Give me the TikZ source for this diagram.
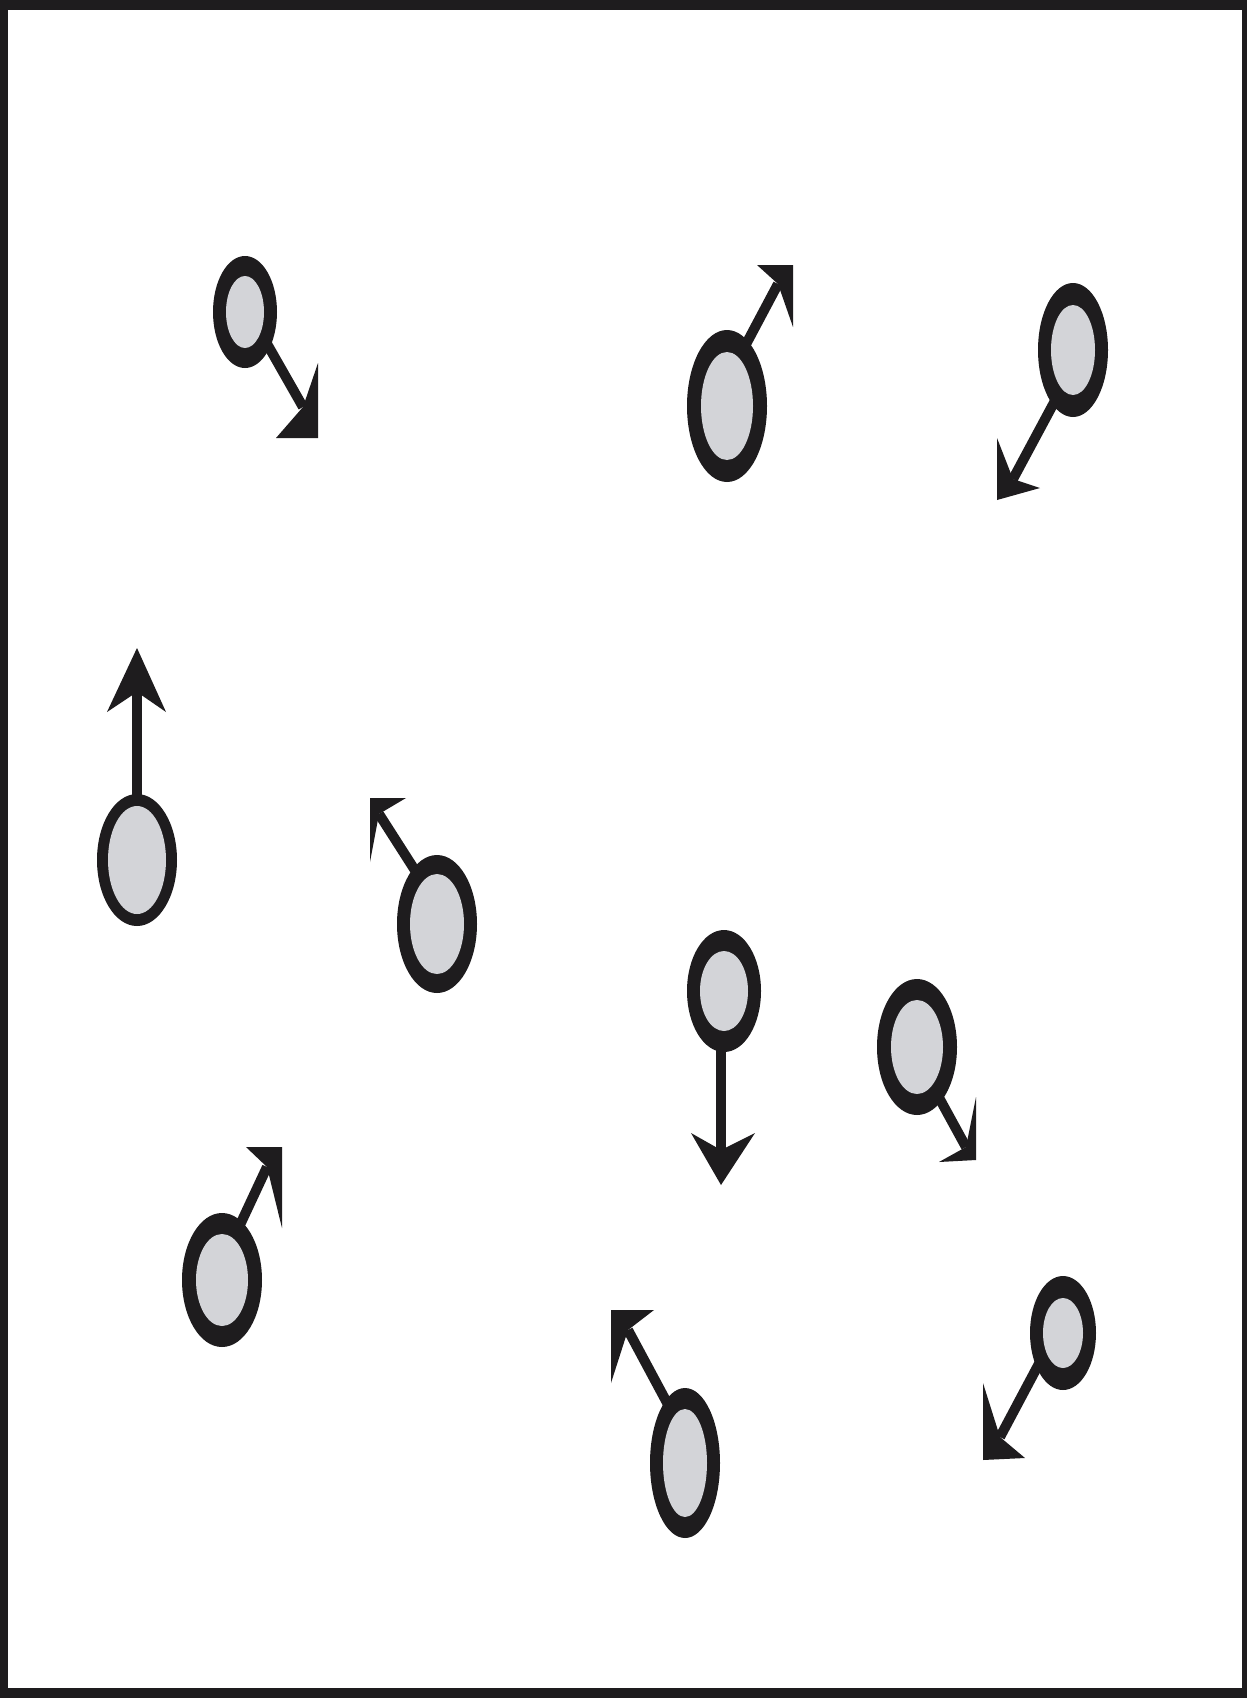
\documentclass[tikz,border=0pt]{standalone}
\definecolor{ink}{RGB}{30,28,30}
\definecolor{core}{RGB}{211,212,216}
\tikzset{
  shaft/.style={draw=ink, line width=5pt},
  head/.style={fill=ink},
  ring/.style={fill=ink},
  corefill/.style={fill=core}
}
% #1 name, #2 center, #3 outer rx, #4 outer ry, #5 inner rx, #6 inner ry
\newcommand\mybody[6]{%
  \coordinate (#1c) at #2;
  \fill[ring] (#1c) ellipse [x radius=#3, y radius=#4];
  \fill[corefill] (#1c) ellipse [x radius=#5, y radius=#6];
}
% #1 name, #2 shaft start, #3 notch, #4 tip, #5 barb a, #6 barb b
\newcommand\myarrow[6]{%
  \coordinate (#1s) at #2;
  \coordinate (#1n) at #3;
  \coordinate (#1t) at #4;
  \draw[shaft] (#1s) -- (#1n);
  \fill[head] (#1t) -- #5 -- (#1n) -- #6 -- cycle;
}
\begin{document}
\begin{tikzpicture}[x=0.5pt,y=-0.5pt]
\useasboundingbox (0,0) rectangle (1247,1698);
\fill[ink] (0,0) rectangle (1247,1698);
\fill[white] (8,10) rectangle (1242,1688);
% particle 1
\myarrow{p1}{(262,335)}{(303,407)}{(318,438)}{(318,363)}{(276,438)}
\mybody{p1}{(245,312)}{32}{56}{19}{36}
% particle 2
\myarrow{p2}{(744,348)}{(778,284)}{(793,265)}{(757,265)}{(793,327)}
\mybody{p2}{(727,406)}{40}{76}{26}{54}
% particle 3
\myarrow{p3}{(1057,397)}{(1013,479)}{(997,500)}{(997,438)}{(1040,488)}
\mybody{p3}{(1073,350)}{35}{67}{22}{45}
% particle 4
\myarrow{p4}{(137,810)}{(137,692)}{(137,648)}{(107,712)}{(166,712)}
\mybody{p4}{(137,860)}{40}{66}{29}{54}
% particle 5
\myarrow{p5}{(418,875)}{(379,814)}{(370,798)}{(406,798)}{(370,862)}
\mybody{p5}{(437,924)}{40}{69}{27}{50}
% particle 6
\myarrow{p6}{(721,1040)}{(721,1150)}{(721,1185)}{(691,1133)}{(755,1133)}
\mybody{p6}{(724,991)}{37}{61}{24}{40}
% particle 7
\myarrow{p7}{(937,1094)}{(966,1147)}{(976,1160)}{(976,1097)}{(939,1162)}
\mybody{p7}{(917,1047)}{40}{68}{26}{47}
% particle 8
\myarrow{p8}{(239,1227)}{(267,1167)}{(282,1147)}{(246,1147)}{(282,1228)}
\mybody{p8}{(222,1280)}{40}{67}{26}{46}
% particle 9
\myarrow{p9}{(672,1412)}{(628,1330)}{(611,1310)}{(654,1310)}{(611,1383)}
\mybody{p9}{(685,1463)}{35}{75}{22}{54}
% particle 10
\myarrow{p10}{(1042,1358)}{(1000,1437)}{(983,1460)}{(983,1383)}{(1025,1458)}
\mybody{p10}{(1063,1333)}{33}{57}{20}{35}
\end{tikzpicture}
\end{document}
